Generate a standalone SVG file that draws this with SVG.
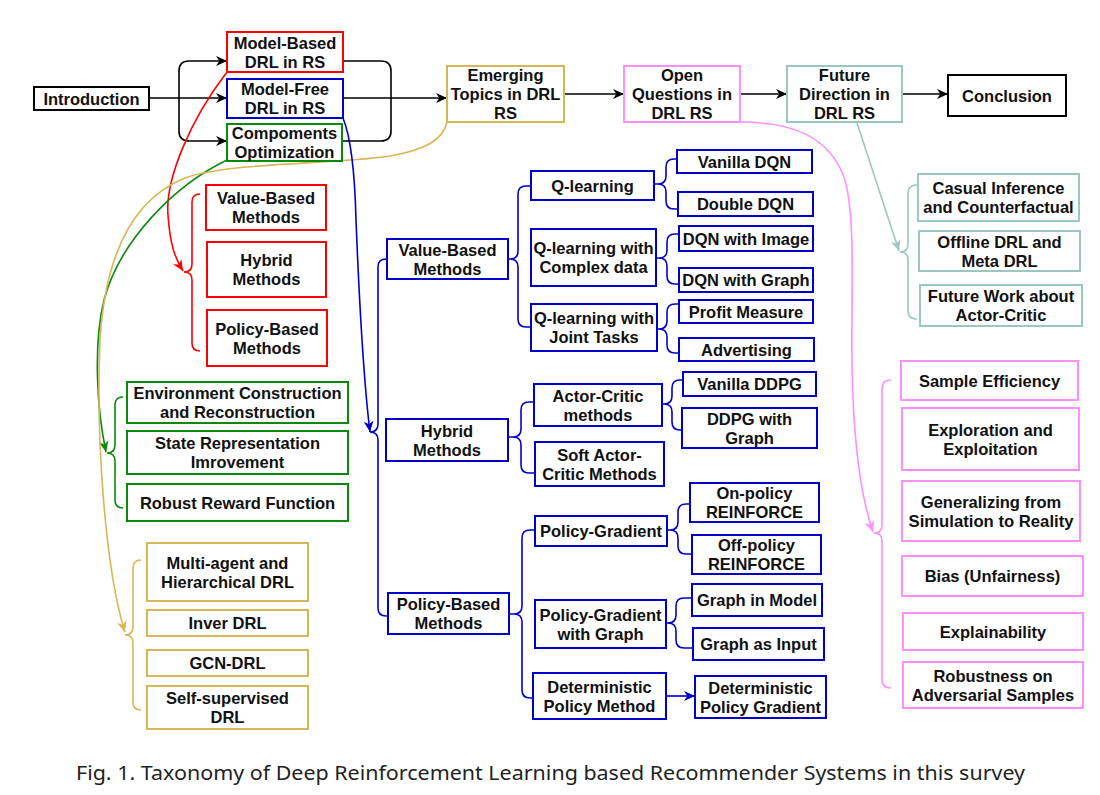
<svg xmlns="http://www.w3.org/2000/svg" width="1100" height="795" viewBox="0 0 1100 795">
<style>
.t{font-family:"Liberation Sans",Arial,sans-serif;font-weight:bold;font-size:16.5px;fill:#111;text-anchor:middle}
rect{fill:#fff;stroke-width:2}
.k rect{stroke:#000}.r rect{stroke:#FF0000}.b rect{stroke:#0000CC}.g rect{stroke:#0A8A0A}.y rect{stroke:#D6B656}.p rect{stroke:#FF8FFF}.c rect{stroke:#9AC7BF}
.ln{fill:none;stroke-width:1.6}
.lk{stroke:#000}.lr{stroke:#FF0000}.lb{stroke:#0000CC}.lg{stroke:#0A8A0A}.ly{stroke:#D6B656}.lp{stroke:#FF8FFF}.lc{stroke:#9AC7BF}
.cap{font-family:"Noto Sans","Liberation Sans",sans-serif;font-size:19.5px;fill:#222}
</style>
<defs>
<marker id="ak" viewBox="0 0 10 10" refX="10" refY="5" markerWidth="11" markerHeight="11" markerUnits="userSpaceOnUse" orient="auto"><path d="M0,0.5 L10,5 L0,9.5 L3,5 Z" fill="#000"/></marker>
<marker id="ar" viewBox="0 0 10 10" refX="10" refY="5" markerWidth="11" markerHeight="11" markerUnits="userSpaceOnUse" orient="auto"><path d="M0,0.5 L10,5 L0,9.5 L3,5 Z" fill="#FF0000"/></marker>
<marker id="ab" viewBox="0 0 10 10" refX="10" refY="5" markerWidth="11" markerHeight="11" markerUnits="userSpaceOnUse" orient="auto"><path d="M0,0.5 L10,5 L0,9.5 L3,5 Z" fill="#0000CC"/></marker>
<marker id="ag" viewBox="0 0 10 10" refX="10" refY="5" markerWidth="11" markerHeight="11" markerUnits="userSpaceOnUse" orient="auto"><path d="M0,0.5 L10,5 L0,9.5 L3,5 Z" fill="#0A8A0A"/></marker>
<marker id="ay" viewBox="0 0 10 10" refX="10" refY="5" markerWidth="11" markerHeight="11" markerUnits="userSpaceOnUse" orient="auto"><path d="M0,0.5 L10,5 L0,9.5 L3,5 Z" fill="#D6B656"/></marker>
<marker id="ap" viewBox="0 0 10 10" refX="10" refY="5" markerWidth="11" markerHeight="11" markerUnits="userSpaceOnUse" orient="auto"><path d="M0,0.5 L10,5 L0,9.5 L3,5 Z" fill="#FF8FFF"/></marker>
<marker id="ac" viewBox="0 0 10 10" refX="10" refY="5" markerWidth="11" markerHeight="11" markerUnits="userSpaceOnUse" orient="auto"><path d="M0,0.5 L10,5 L0,9.5 L3,5 Z" fill="#9AC7BF"/></marker>
</defs>
<rect x="0" y="0" width="1100" height="795" style="fill:#fff;stroke:none"/>

<g id="connectors">
<!-- top flow -->
<path class="ln lk" d="M149,98 L227,98" marker-end="url(#ak)"/>
<path class="ln lk" d="M179,98 L179,71 Q179,61 189,61 L227,61" marker-end="url(#ak)"/>
<path class="ln lk" d="M179,98 L179,131 Q179,141 189,141 L227,141" marker-end="url(#ak)"/>
<path class="ln lk" d="M343,61 L381,61 Q391,61 391,71 L391,131 Q391,141 381,141 L342,141"/>
<path class="ln lk" d="M343,98 L447,98" marker-end="url(#ak)"/>
<path class="ln lk" d="M564,94 L624,94" marker-end="url(#ak)"/>
<path class="ln lk" d="M740,94 L787,94" marker-end="url(#ak)"/>
<path class="ln lk" d="M902,94 L948,94" marker-end="url(#ak)"/>
<!-- curved links -->
<path class="ln lr" d="M227,72 C190,120 165,180 168,215 C170,245 175,258 183,271" marker-end="url(#ar)"/>
<path class="ln lg" d="M227,160 C175,185 120,240 104,300 C93,345 97,410 106,452" marker-end="url(#ag)"/>
<path class="ln ly" d="M447,122 C443,140 425,150 390,156 C330,165 230,162 185,178 C130,200 105,260 100,340 C96,430 104,565 125,632" marker-end="url(#ay)"/>
<path class="ln lb" d="M343,118 C352,140 355,180 356,220 C360,320 366,400 370,432" marker-end="url(#ab)"/>
<path class="ln lc" d="M857,123 L899,251" marker-end="url(#ac)"/>
<path class="ln lp" d="M740,122 C790,122 830,135 845,180 C856,220 851,300 852,360 C853,450 862,500 873,532" marker-end="url(#ap)"/>
<!-- brackets -->
<path class="ln lr" d="M200,194 Q192,194 192,202 L192,264 Q192,272 184,272 Q192,272 192,280 L192,343 Q192,351 200,351"/>
<path class="ln lg" d="M123,397 Q115,397 115,405 L115,445 Q115,453 107,453 Q115,453 115,461 L115,500 Q115,508 123,508"/>
<path class="ln ly" d="M141,560 Q133,560 133,568 L133,627 Q133,635 125,635 Q133,635 133,643 L133,702 Q133,710 141,710"/>
<path class="ln lc" d="M917,185 Q908,185 908,193 L908,244 Q908,252 900,252 Q908,252 908,260 L908,311 Q908,319 917,319"/>
<path class="ln lp" d="M891,380 Q882,380 882,388 L882,525 Q882,533 874,533 Q882,533 882,541 L882,680 Q882,688 891,688"/>
<path class="ln lb" d="M370,432 Q378,432 378,424 L378,267 Q378,259 386,259 L387,259 M370,432 Q378,432 378,440 L378,608 Q378,616 386,616 L388,616"/>
<path class="ln lb" d="M508,259 L510,259 Q518,259 518,251 L518,194 Q518,186 526,186 L531,186 M510,259 Q518,259 518,267 L518,319 Q518,327 526,327 L531,327"/>
<path class="ln lb" d="M654,184 L658,184 Q666,184 666,176 L666,167 Q666,159 674,159 L677,159 M658,184 Q666,184 666,192 L666,201 Q666,209 674,209 L678,209"/>
<path class="ln lb" d="M656,258 L659,258 Q667,258 667,250 L667,242 Q667,234 675,234 L679,234 M659,258 Q667,258 667,266 L667,276 Q667,284 675,284 L679,284"/>
<path class="ln lb" d="M657,329 L659,329 Q667,329 667,321 L667,312 Q667,304 675,304 L679,304 M659,329 Q667,329 667,337 L667,345 Q667,353 675,353 L679,353"/>
<path class="ln lb" d="M508,437 L513,437 Q521,437 521,429 L521,410 Q521,402 529,402 L534,402 M513,437 Q521,437 521,445 L521,465 Q521,473 529,473 L535,473"/>
<path class="ln lb" d="M662,404 L664,404 Q672,404 672,396 L672,388 Q672,380 680,380 L683,380 M664,404 Q672,404 672,412 L672,422 Q672,430 680,430 L682,430"/>
<path class="ln lb" d="M509,614 L514,614 Q522,614 522,606 L522,538 Q522,530 530,530 L535,530 M514,614 Q522,614 522,622 L522,690 Q522,698 530,698 L533,698"/>
<path class="ln lb" d="M667,530 L670,530 Q678,530 678,522 L678,512 Q678,504 686,504 L690,504 M670,530 Q678,530 678,538 L678,546 Q678,554 686,554 L692,554"/>
<path class="ln lb" d="M666,623 L668,623 Q676,623 676,615 L676,606 Q676,598 684,598 L692,598 M668,623 Q676,623 676,631 L676,640 Q676,648 684,648 L693,648"/>
<path class="ln lb" d="M666,696 L695,696" marker-end="url(#ab)"/>
</g>

<g id="n-intro" class="k"><rect x="34" y="87" width="115" height="23"/><text class="t" x="91.5" y="104.5">Introduction</text></g>
<g id="n-mb" class="r"><rect x="227" y="32" width="116" height="40"/><text class="t" x="285" y="48.5">Model-Based</text><text class="t" x="285" y="67.5">DRL in RS</text></g>
<g id="n-mf" class="b"><rect x="227" y="79" width="116" height="39"/><text class="t" x="285" y="95">Model-Free</text><text class="t" x="285" y="114">DRL in RS</text></g>
<g id="n-co" class="g"><rect x="227" y="124" width="115" height="37"/><text class="t" x="284.5" y="139">Compoments</text><text class="t" x="284.5" y="158">Optimization</text></g>
<g id="n-em" class="y"><rect x="447" y="66" width="117" height="56"/><text class="t" x="505.5" y="81">Emerging</text><text class="t" x="505.5" y="100">Topics in DRL</text><text class="t" x="505.5" y="119">RS</text></g>
<g id="n-oq" class="p"><rect x="624" y="66" width="116" height="56"/><text class="t" x="682" y="81">Open</text><text class="t" x="682" y="100">Questions in</text><text class="t" x="682" y="119">DRL RS</text></g>
<g id="n-fd" class="c"><rect x="787" y="66" width="115" height="56"/><text class="t" x="844.5" y="81">Future</text><text class="t" x="844.5" y="100">Direction in</text><text class="t" x="844.5" y="119">DRL RS</text></g>
<g id="n-cc" class="k"><rect x="948" y="75" width="118" height="41"/><text class="t" x="1007" y="101.5">Conclusion</text></g>

<g id="n-rv" class="r"><rect x="206" y="185" width="120" height="45"/><text class="t" x="266" y="204">Value-Based</text><text class="t" x="266" y="223">Methods</text></g>
<g id="n-rh" class="r"><rect x="207" y="242" width="119" height="55"/><text class="t" x="266.5" y="266">Hybrid</text><text class="t" x="266.5" y="285">Methods</text></g>
<g id="n-rp" class="r"><rect x="207" y="310" width="120" height="56"/><text class="t" x="267" y="334.5">Policy-Based</text><text class="t" x="267" y="353.5">Methods</text></g>

<g id="n-ge" class="g"><rect x="127" y="382" width="221" height="41"/><text class="t" x="237.5" y="399">Environment Construction</text><text class="t" x="237.5" y="418">and Reconstruction</text></g>
<g id="n-gs" class="g"><rect x="127" y="431" width="221" height="43"/><text class="t" x="237.5" y="449">State Representation</text><text class="t" x="237.5" y="468">Imrovement</text></g>
<g id="n-gr" class="g"><rect x="127" y="484" width="221" height="37"/><text class="t" x="237.5" y="508.5">Robust Reward Function</text></g>

<g id="n-ym" class="y"><rect x="147" y="543" width="161" height="58"/><text class="t" x="227.5" y="568.5">Multi-agent and</text><text class="t" x="227.5" y="587.5">Hierarchical DRL</text></g>
<g id="n-yi" class="y"><rect x="147" y="610" width="161" height="26"/><text class="t" x="227.5" y="629">Inver DRL</text></g>
<g id="n-yg" class="y"><rect x="147" y="650" width="161" height="26"/><text class="t" x="227.5" y="669">GCN-DRL</text></g>
<g id="n-ys" class="y"><rect x="147" y="686" width="161" height="43"/><text class="t" x="227.5" y="704">Self-supervised</text><text class="t" x="227.5" y="723">DRL</text></g>

<g id="n-bv" class="b"><rect x="387" y="239" width="121" height="40"/><text class="t" x="447.5" y="255.5">Value-Based</text><text class="t" x="447.5" y="274.5">Methods</text></g>
<g id="n-bh" class="b"><rect x="386" y="419" width="122" height="42"/><text class="t" x="447" y="436.5">Hybrid</text><text class="t" x="447" y="455.5">Methods</text></g>
<g id="n-bp" class="b"><rect x="388" y="593" width="121" height="41"/><text class="t" x="448.5" y="610">Policy-Based</text><text class="t" x="448.5" y="629">Methods</text></g>

<g id="n-q1" class="b"><rect x="531" y="171" width="123" height="29"/><text class="t" x="592.5" y="191.5">Q-learning</text></g>
<g id="n-q2" class="b"><rect x="531" y="229" width="125" height="57"/><text class="t" x="593.5" y="254">Q-learning with</text><text class="t" x="593.5" y="273">Complex data</text></g>
<g id="n-q3" class="b"><rect x="531" y="304" width="126" height="47"/><text class="t" x="594" y="324">Q-learning with</text><text class="t" x="594" y="343">Joint Tasks</text></g>
<g id="n-vd" class="b"><rect x="677" y="150" width="135" height="23"/><text class="t" x="744.5" y="167.5">Vanilla DQN</text></g>
<g id="n-dd" class="b"><rect x="678" y="192" width="135" height="24"/><text class="t" x="745.5" y="210">Double DQN</text></g>
<g id="n-di" class="b"><rect x="679" y="226" width="134" height="25"/><text class="t" x="746" y="244.5">DQN with Image</text></g>
<g id="n-dg" class="b"><rect x="679" y="268" width="134" height="24"/><text class="t" x="746" y="286">DQN with Graph</text></g>
<g id="n-pm" class="b"><rect x="679" y="300" width="134" height="23"/><text class="t" x="746" y="317.5">Profit Measure</text></g>
<g id="n-ad" class="b"><rect x="679" y="338" width="135" height="23"/><text class="t" x="746.5" y="355.5">Advertising</text></g>

<g id="n-ac" class="b"><rect x="534" y="384" width="128" height="42"/><text class="t" x="598" y="401.5">Actor-Critic</text><text class="t" x="598" y="420.5">methods</text></g>
<g id="n-sa" class="b"><rect x="535" y="442" width="129" height="44"/><text class="t" x="599.5" y="460.5">Soft Actor-</text><text class="t" x="599.5" y="479.5">Critic Methods</text></g>
<g id="n-vg" class="b"><rect x="683" y="372" width="133" height="24"/><text class="t" x="749.5" y="390">Vanilla DDPG</text></g>
<g id="n-dg2" class="b"><rect x="682" y="408" width="135" height="40"/><text class="t" x="749.5" y="424.5">DDPG with</text><text class="t" x="749.5" y="443.5">Graph</text></g>

<g id="n-pg" class="b"><rect x="535" y="516" width="132" height="30"/><text class="t" x="601" y="537">Policy-Gradient</text></g>
<g id="n-pgg" class="b"><rect x="535" y="600" width="131" height="48"/><text class="t" x="600.5" y="620.5">Policy-Gradient</text><text class="t" x="600.5" y="639.5">with Graph</text></g>
<g id="n-dpm" class="b"><rect x="533" y="673" width="133" height="46"/><text class="t" x="599.5" y="692.5">Deterministic</text><text class="t" x="599.5" y="711.5">Policy Method</text></g>
<g id="n-on" class="b"><rect x="690" y="483" width="129" height="39"/><text class="t" x="754.5" y="499">On-policy</text><text class="t" x="754.5" y="518">REINFORCE</text></g>
<g id="n-off" class="b"><rect x="692" y="535" width="129" height="39"/><text class="t" x="756.5" y="551">Off-policy</text><text class="t" x="756.5" y="570">REINFORCE</text></g>
<g id="n-gm" class="b"><rect x="692" y="584" width="130" height="32"/><text class="t" x="757" y="606">Graph in Model</text></g>
<g id="n-gi" class="b"><rect x="693" y="628" width="131" height="32"/><text class="t" x="758.5" y="650">Graph as Input</text></g>
<g id="n-dpg" class="b"><rect x="695" y="676" width="131" height="42"/><text class="t" x="760.5" y="693.5">Deterministic</text><text class="t" x="760.5" y="712.5">Policy Gradient</text></g>

<g id="n-t1" class="c"><rect x="918" y="174" width="161" height="47"/><text class="t" x="998.5" y="194">Casual Inference</text><text class="t" x="998.5" y="213">and Counterfactual</text></g>
<g id="n-t2" class="c"><rect x="919" y="231" width="161" height="40"/><text class="t" x="999.5" y="247.5">Offline DRL and</text><text class="t" x="999.5" y="266.5">Meta DRL</text></g>
<g id="n-t3" class="c"><rect x="920" y="285" width="162" height="41"/><text class="t" x="1001" y="302">Future Work about</text><text class="t" x="1001" y="321">Actor-Critic</text></g>

<g id="n-p1" class="p"><rect x="901" y="361" width="177" height="39"/><text class="t" x="989.5" y="386.5">Sample Efficiency</text></g>
<g id="n-p2" class="p"><rect x="902" y="408" width="177" height="62"/><text class="t" x="990.5" y="435.5">Exploration and</text><text class="t" x="990.5" y="454.5">Exploitation</text></g>
<g id="n-p3" class="p"><rect x="902" y="481" width="178" height="60"/><text class="t" x="991" y="507.5">Generalizing from</text><text class="t" x="991" y="526.5" textLength="165" lengthAdjust="spacingAndGlyphs">Simulation to Reality</text></g>
<g id="n-p4" class="p"><rect x="902" y="556" width="181" height="40"/><text class="t" x="992.5" y="582">Bias (Unfairness)</text></g>
<g id="n-p5" class="p"><rect x="903" y="613" width="180" height="37"/><text class="t" x="993" y="637.5">Explainability</text></g>
<g id="n-p6" class="p"><rect x="903" y="662" width="180" height="46"/><text class="t" x="993" y="681.5">Robustness on</text><text class="t" x="993" y="700.5">Adversarial Samples</text></g>

<text class="cap" x="76" y="780" textLength="949" lengthAdjust="spacingAndGlyphs">Fig. 1.  Taxonomy of Deep Reinforcement Learning based Recommender Systems in this survey</text>
</svg>
